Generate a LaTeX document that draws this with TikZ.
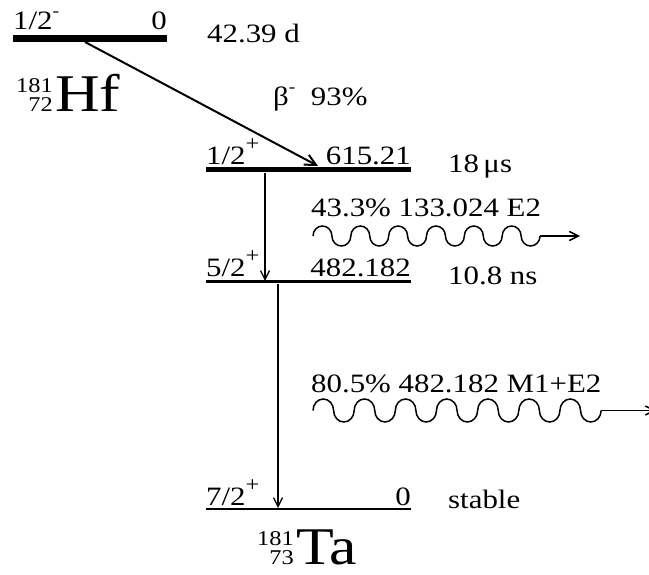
\documentclass[tikz,border=0pt]{standalone}
\usepackage{fontspec}
\setmainfont{Liberation Serif}[FakeStretch=1.165]
\usetikzlibrary{arrows.meta}

% spin/parity labels
\newcommand\parp{\raisebox{14pt}{\fontsize{21}{21}\selectfont +}}
\newcommand\parm{\raisebox{13pt}{\fontsize{17}{17}\selectfont -}}
% mass and charge numbers stacked before a symbol
\newcommand\isostack[2]{\fontsize{21}{21}\selectfont\begin{tabular}[b]{@{}r@{}}#1\\[-2pt]#2\end{tabular}}

\tikzset{
  txt/.style={inner sep=0pt, font=\fontsize{26.5}{30}\selectfont},
  elem/.style={inner sep=0pt, font=\fontsize{53}{53}\selectfont},
  thicklevel/.style={line width=7pt},
  midlevel/.style={line width=5pt},
  lvlthin/.style={line width=3pt},
  lvlground/.style={line width=2pt},
  barb/.style={-{Straight Barb[length=9pt,width=9pt]}},
  trans/.style={line width=1.3pt, barb},
  beta/.style={line width=2pt, -{Straight Barb[length=11pt,width=11pt]}},
  wave/.style={line width=1.5pt},
}

\begin{document}
\begin{tikzpicture}[x=1pt,y=-1pt]
\useasboundingbox (0,0) rectangle (649,575);

% ---- parent: 181Hf ground state
\coordinate (hfL) at (13,38.5);
\coordinate (hfR) at (167,38.5);
\draw[thicklevel] (hfL) -- (hfR);
\node[txt, anchor=base west] (hfspin) at (13,30) {1/2\parm};
\node[txt, anchor=base east] (hfen) at (167,30) {0};
\node[txt, anchor=base west] (hfhl) at (207,43) {42.39 d};

\node[elem, anchor=base west] (hf) at (55,112) {Hf};
\node[inner sep=0pt, anchor=base east] (hfaz) at ([xshift=-2pt]hf.base west) {\isostack{181}{72}};

% ---- daughter levels in 181Ta
\coordinate (l1L) at (206,170);
\coordinate (l1R) at (411,170);
\draw[midlevel] (l1L) -- (l1R);
\node[txt, anchor=base west] (l1spin) at (206,165) {1/2\parp};
\node[txt, anchor=base east] (l1en) at (411,165) {615.21};
\node[txt, anchor=base west] (l1hl) at (448,173) {18\,μs};

\coordinate (l2L) at (206,282);
\coordinate (l2R) at (411,282);
\draw[lvlthin] (l2L) -- (l2R);
\node[txt, anchor=base west] (l2spin) at (206,277) {5/2\parp};
\node[txt, anchor=base east] (l2en) at (411,277) {482.182};
\node[txt, anchor=base west] (l2hl) at (448,285) {10.8 ns};

\coordinate (l3L) at (206,509);
\coordinate (l3R) at (411,509);
\draw[lvlground] (l3L) -- (l3R);
\node[txt, anchor=base west] (l3spin) at (206,505) {7/2\parp};
\node[txt, anchor=base east] (l3en) at (411,505) {0};
\node[txt, anchor=base west] (l3hl) at (448,508) {stable};

\node[elem, anchor=base west] (ta) at (296,564) {Ta};
\node[inner sep=0pt, anchor=base east] (taaz) at ([xshift=-2pt]ta.base west) {\isostack{181}{73}};

% ---- beta decay branch
\coordinate (bfrom) at (85,42);
\coordinate (bto) at (318,166);
\draw[beta] (bfrom) -- (bto);
\node[txt, anchor=base west] (blab) at (273,106) {β\parm\ \ 93\%};

% ---- gamma cascade
\coordinate (t1a) at (265,173);
\coordinate (t1b) at (265,281);
\draw[trans] (t1a) -- (t1b);
\coordinate (t2a) at (278,284);
\coordinate (t2b) at (278,508);
\draw[trans] (t2a) -- (t2b);

% emitted photons: wavy line of half-ellipse arcs, then a straight arrow
\node[txt, anchor=base west] (g1lab) at (311,217) {43.3\% 133.024 E2};
\coordinate (g1s) at (313,236);
\coordinate (g1e) at (540,236);
\coordinate (g1t) at (580,236);
\draw[wave] (g1s) \foreach \i in {1,...,6} {
    arc[start angle=180, end angle=360, x radius=9.46, y radius=10]
    arc[start angle=180, end angle=0, x radius=9.46, y radius=10]};
\draw[wave, barb] (g1e) -- (g1t);

\node[txt, anchor=base west] (g2lab) at (311,392) {80.5\% 482.182 M1+E2};
\coordinate (g2s) at (313,410.5);
\coordinate (g2e) at (601,410.5);
\coordinate (g2t) at (656,410.5);
\draw[wave] (g2s) \foreach \i in {1,...,7} {
    arc[start angle=180, end angle=360, x radius=10.29, y radius=11.5]
    arc[start angle=180, end angle=0, x radius=10.29, y radius=11.5]};
\draw[wave, barb] (g2e) -- (g2t);
\end{tikzpicture}
\end{document}
